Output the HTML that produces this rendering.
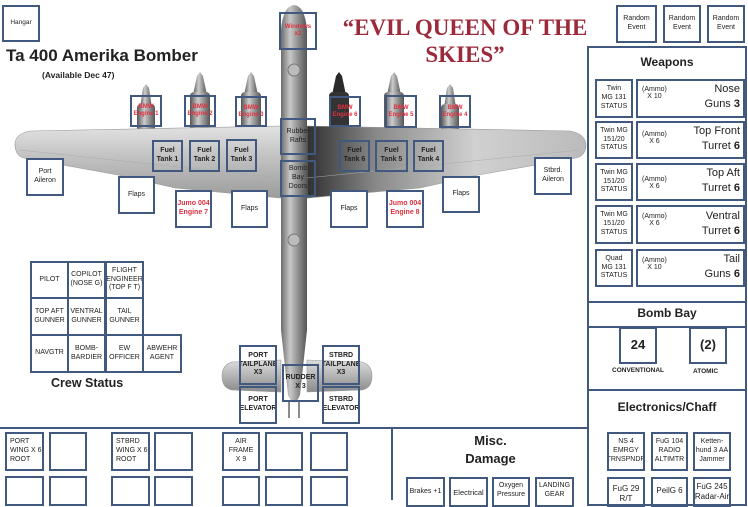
<!DOCTYPE html>
<html><head><meta charset="utf-8"><style>
*{margin:0;padding:0;box-sizing:border-box}
body{width:748px;height:500px;overflow:hidden;background:#fff;position:relative;font-family:"Liberation Sans",sans-serif;color:#222}
.b{position:absolute;border:2px solid #41597f;display:flex;align-items:center;justify-content:center;text-align:center;font-size:7px;line-height:1.25;overflow:hidden}
.r{color:#e0303f;font-weight:bold}
.e{font-size:6px;line-height:1.15}
.t{position:absolute;white-space:nowrap}
.ln{position:absolute;background:#41597f}
</style></head><body>
<svg width="748" height="500" style="position:absolute;left:0;top:0">
<defs>
<linearGradient id="fg" x1="0" x2="1"><stop offset="0" stop-color="#6d6d6d"/><stop offset=".35" stop-color="#c8c8c8"/><stop offset=".6" stop-color="#9a9a9a"/><stop offset="1" stop-color="#555"/></linearGradient>
<linearGradient id="wg" x1="0" y1="0" x2="0" y2="1"><stop offset="0" stop-color="#e2e2e2"/><stop offset=".4" stop-color="#c4c4c4"/><stop offset="1" stop-color="#9c9c9c"/></linearGradient>
<linearGradient id="wr" x1="0" x2="1"><stop offset="0" stop-color="#303030"/><stop offset=".25" stop-color="#8a8a8a"/><stop offset=".6" stop-color="#d0d0d0"/><stop offset="1" stop-color="#bbb"/></linearGradient>
<linearGradient id="eg" x1="0" x2="1"><stop offset="0" stop-color="#555"/><stop offset=".4" stop-color="#ccc"/><stop offset="1" stop-color="#555"/></linearGradient>
<linearGradient id="tg" x1="0" y1="0" x2="0" y2="1"><stop offset="0" stop-color="#ddd"/><stop offset="1" stop-color="#8a8a8a"/></linearGradient>
</defs>
<g fill="url(#eg)">
<path d="M140 108 L143 88 L146 84 L149 88 L152 108 Z"/><rect x="137" y="104" width="18" height="40" rx="4"/>
<path d="M193 95 L197 76 L200 72 L203 76 L207 95 Z"/><rect x="190" y="92" width="20" height="52" rx="4"/>
<path d="M244 95 L248 76 L251 72 L254 76 L258 95 Z"/><rect x="241" y="92" width="20" height="52" rx="4"/>
<path d="M387 95 L391 76 L394 72 L397 76 L401 95 Z"/><rect x="384" y="92" width="20" height="52" rx="4"/>
<path d="M444 108 L447 88 L450 84 L453 88 L456 108 Z"/><rect x="441" y="104" width="18" height="40" rx="4"/>
</g>
<path d="M332 95 L336 76 L339 72 L342 76 L346 95 Z" fill="#2a2a2a"/><rect x="329" y="92" width="20" height="52" rx="4" fill="#333"/>
<path d="M281 126 L30 131 Q14 134 15 146 Q16 156 24 158 L118 175 L175 188 L281 198 Z" fill="url(#wg)" stroke="#999" stroke-width=".6"/>
<path d="M307 126 L570 131 Q586 134 586 146 Q585 156 576 158 L478 175 L420 188 L307 198 Z" fill="url(#wr)" stroke="#999" stroke-width=".6"/>
<g stroke="#aaa" stroke-width=".5"><line x1="20" y1="150" x2="281" y2="178"/><line x1="580" y1="150" x2="307" y2="178"/></g>
<path d="M281 360 L232 362 Q222 365 222 376 Q222 388 232 390 L281 392 Z" fill="url(#tg)" stroke="#999" stroke-width=".6"/>
<path d="M307 360 L362 362 Q372 365 372 376 Q372 388 362 390 L307 392 Z" fill="url(#tg)" stroke="#999" stroke-width=".6"/>
<path d="M281 30 Q283 6 294 5 Q305 6 307 30 L307 330 L300 395 Q294 410 288 395 L281 330 Z" fill="url(#fg)"/>
<line x1="289" y1="400" x2="289" y2="418" stroke="#666" stroke-width="1.5"/><line x1="299" y1="400" x2="299" y2="418" stroke="#666" stroke-width="1.5"/>
<circle cx="294" cy="70" r="6" fill="#bbb" stroke="#777"/>
<circle cx="294" cy="240" r="6" fill="#bbb" stroke="#777"/>
</svg>

<div class="b" style="left:2px;top:5px;width:38px;height:37px;font-size:6.5px">Hangar</div>
<div class="t" style="left:6px;top:46px;font-size:17px;font-weight:bold">Ta 400 Amerika Bomber</div>
<div class="t" style="left:42px;top:70px;font-size:8.5px;font-weight:bold">(Available Dec 47)</div>
<div class="t" style="left:330px;top:14px;width:270px;text-align:center;font-family:'Liberation Serif',serif;font-weight:bold;font-size:23px;color:#9b2a3a;line-height:27px;white-space:normal">“EVIL QUEEN OF THE<br>SKIES”</div>

<div class="b r e" style="left:279px;top:12px;width:38px;height:38px">Windows<br>x2</div>
<div class="b r e" style="left:130px;top:95px;width:32px;height:32px">BMW<br>Engine 1</div>
<div class="b r e" style="left:184px;top:95px;width:32px;height:32px">BMW<br>Engine 2</div>
<div class="b r e" style="left:235px;top:96px;width:32px;height:31px">BMW<br>Engine 3</div>
<div class="b r e" style="left:329px;top:96px;width:32px;height:31px">BMW<br>Engine 6</div>
<div class="b r e" style="left:385px;top:95px;width:32px;height:33px">BMW<br>Engine 5</div>
<div class="b r e" style="left:439px;top:95px;width:32px;height:33px">BMW<br>Engine 4</div>
<div class="b" style="left:280px;top:118px;width:36px;height:37px">Rubber<br>Rafts</div>
<div class="b" style="left:280px;top:160px;width:36px;height:37px">Bomb<br>Bay<br>Doors</div>
<div class="b" style="left:152px;top:140px;width:31px;height:32px;font-weight:bold">Fuel<br>Tank 1</div>
<div class="b" style="left:189px;top:140px;width:31px;height:32px;font-weight:bold">Fuel<br>Tank 2</div>
<div class="b" style="left:226px;top:139px;width:31px;height:33px;font-weight:bold">Fuel<br>Tank 3</div>
<div class="b" style="left:339px;top:140px;width:31px;height:32px;font-weight:bold">Fuel<br>Tank 6</div>
<div class="b" style="left:375px;top:140px;width:33px;height:32px;font-weight:bold">Fuel<br>Tank 5</div>
<div class="b" style="left:413px;top:140px;width:31px;height:32px;font-weight:bold">Fuel<br>Tank 4</div>
<div class="b" style="left:26px;top:158px;width:38px;height:38px;background:#fff">Port<br>Aileron</div>
<div class="b" style="left:118px;top:176px;width:37px;height:38px;background:#fff">Flaps</div>
<div class="b r" style="left:175px;top:190px;width:37px;height:38px;background:#fff">Jumo 004<br>Engine 7</div>
<div class="b" style="left:231px;top:190px;width:37px;height:38px;background:#fff">Flaps</div>
<div class="b" style="left:330px;top:190px;width:38px;height:38px;background:#fff">Flaps</div>
<div class="b r" style="left:386px;top:190px;width:38px;height:38px;background:#fff">Jumo 004<br>Engine 8</div>
<div class="b" style="left:442px;top:176px;width:38px;height:37px;background:#fff">Flaps</div>
<div class="b" style="left:534px;top:157px;width:38px;height:38px;background:#fff">Stbrd.<br>Aileron</div>

<div class="b" style="left:30px;top:261px;width:39px;height:38px">PILOT</div>
<div class="b" style="left:67px;top:261px;width:39px;height:38px">COPILOT<br>(NOSE G)</div>
<div class="b" style="left:105px;top:261px;width:39px;height:38px">FLIGHT<br>ENGINEER<br>(TOP F T)</div>
<div class="b" style="left:30px;top:297px;width:39px;height:39px">TOP AFT<br>GUNNER</div>
<div class="b" style="left:67px;top:297px;width:39px;height:39px">VENTRAL<br>GUNNER</div>
<div class="b" style="left:105px;top:297px;width:39px;height:39px">TAIL<br>GUNNER</div>
<div class="b" style="left:30px;top:334px;width:39px;height:39px">NAVGTR</div>
<div class="b" style="left:67px;top:334px;width:39px;height:39px">BOMB-<br>BARDIER</div>
<div class="b" style="left:105px;top:334px;width:39px;height:39px">EW<br>OFFICER</div>
<div class="b" style="left:142px;top:334px;width:40px;height:39px">ABWEHR<br>AGENT</div>
<div class="t" style="left:51px;top:376px;font-size:12.5px;font-weight:bold">Crew Status</div>

<div class="b" style="left:239px;top:345px;width:38px;height:40px;font-weight:bold">PORT<br>TAILPLANE<br>X3</div>
<div class="b" style="left:322px;top:345px;width:38px;height:40px;font-weight:bold">STBRD<br>TAILPLANE<br>X3</div>
<div class="b" style="left:282px;top:364px;width:37px;height:38px;font-weight:bold">RUDDER<br>X 3</div>
<div class="b" style="left:239px;top:386px;width:38px;height:38px;font-weight:bold">PORT<br>ELEVATOR</div>
<div class="b" style="left:322px;top:386px;width:38px;height:38px;font-weight:bold">STBRD<br>ELEVATOR</div>

<div class="ln" style="left:0;top:427px;width:589px;height:2px"></div>
<div class="ln" style="left:391px;top:427px;width:2px;height:73px"></div>
<div class="b" style="left:5px;top:432px;width:39px;height:39px;justify-content:flex-start;text-align:left;padding-left:3px">PORT<br>WING X 6<br>ROOT</div>
<div class="b" style="left:49px;top:432px;width:38px;height:39px"></div>
<div class="b" style="left:111px;top:432px;width:39px;height:39px;justify-content:flex-start;text-align:left;padding-left:3px">STBRD<br>WING X 6<br>ROOT</div>
<div class="b" style="left:154px;top:432px;width:39px;height:39px"></div>
<div class="b" style="left:222px;top:432px;width:38px;height:39px;align-items:flex-start;padding-top:4px">AIR<br>FRAME<br>X 9</div>
<div class="b" style="left:265px;top:432px;width:38px;height:39px"></div>
<div class="b" style="left:310px;top:432px;width:38px;height:39px"></div>
<div class="b" style="left:5px;top:476px;width:39px;height:30px"></div>
<div class="b" style="left:49px;top:476px;width:38px;height:30px"></div>
<div class="b" style="left:111px;top:476px;width:39px;height:30px"></div>
<div class="b" style="left:154px;top:476px;width:39px;height:30px"></div>
<div class="b" style="left:222px;top:476px;width:38px;height:30px"></div>
<div class="b" style="left:265px;top:476px;width:38px;height:30px"></div>
<div class="b" style="left:310px;top:476px;width:38px;height:30px"></div>
<div class="t" style="left:393px;top:432px;width:195px;text-align:center;font-size:13px;font-weight:bold;line-height:18px">Misc.<br>Damage</div>
<div class="b" style="left:406px;top:477px;width:39px;height:30px;align-items:flex-start;padding-top:9px">Brakes +1</div>
<div class="b" style="left:449px;top:477px;width:39px;height:30px;align-items:flex-start;padding-top:9px;font-size:7.5px">Electrical</div>
<div class="b" style="left:492px;top:477px;width:38px;height:30px;align-items:flex-start;padding-top:3px">Oxygen<br>Pressure</div>
<div class="b" style="left:535px;top:477px;width:39px;height:30px;align-items:flex-start;padding-top:3px">LANDING<br>GEAR</div>

<div class="b" style="left:616px;top:5px;width:41px;height:38px">Random<br>Event</div>
<div class="b" style="left:663px;top:5px;width:38px;height:38px">Random<br>Event</div>
<div class="b" style="left:707px;top:5px;width:38px;height:38px">Random<br>Event</div>
<div class="b" style="left:587px;top:46px;width:160px;height:460px"></div>
<div class="t" style="left:589px;top:55px;width:156px;text-align:center;font-size:12px;font-weight:bold">Weapons</div>

<div class="b" style="left:595px;top:79px;width:38px;height:39px">Twin<br>MG 131<br>STATUS</div>
<div class="b" style="left:636px;top:79px;width:109px;height:39px"></div>
<div class="t" style="left:642px;top:86px;font-size:7px;text-align:center">(Ammo)<br>X 10</div>
<div class="t" style="left:690px;top:82px;width:50px;text-align:right;font-size:11px;line-height:15px">Nose<br>Guns <b>3</b></div>

<div class="b" style="left:595px;top:121px;width:38px;height:38px">Twin MG<br>151/20<br>STATUS</div>
<div class="b" style="left:636px;top:121px;width:109px;height:38px"></div>
<div class="t" style="left:642px;top:131px;font-size:7px;text-align:center">(Ammo)<br>X 6</div>
<div class="t" style="left:680px;top:124px;width:60px;text-align:right;font-size:11px;line-height:15px">Top Front<br>Turret <b>6</b></div>

<div class="b" style="left:595px;top:163px;width:38px;height:38px">Twin MG<br>151/20<br>STATUS</div>
<div class="b" style="left:636px;top:163px;width:109px;height:38px"></div>
<div class="t" style="left:642px;top:176px;font-size:7px;text-align:center">(Ammo)<br>X 6</div>
<div class="t" style="left:680px;top:166px;width:60px;text-align:right;font-size:11px;line-height:15px">Top Aft<br>Turret <b>6</b></div>

<div class="b" style="left:595px;top:205px;width:38px;height:39px">Twin MG<br>151/20<br>STATUS</div>
<div class="b" style="left:636px;top:205px;width:109px;height:39px"></div>
<div class="t" style="left:642px;top:213px;font-size:7px;text-align:center">(Ammo)<br>X 6</div>
<div class="t" style="left:680px;top:209px;width:60px;text-align:right;font-size:11px;line-height:15px">Ventral<br>Turret <b>6</b></div>

<div class="b" style="left:595px;top:249px;width:38px;height:38px">Quad<br>MG 131<br>STATUS</div>
<div class="b" style="left:636px;top:249px;width:109px;height:38px"></div>
<div class="t" style="left:642px;top:257px;font-size:7px;text-align:center">(Ammo)<br>X 10</div>
<div class="t" style="left:680px;top:252px;width:60px;text-align:right;font-size:11px;line-height:15px">Tail<br>Guns <b>6</b></div>

<div class="ln" style="left:587px;top:301px;width:160px;height:2px"></div>
<div class="ln" style="left:587px;top:326px;width:160px;height:2px"></div>
<div class="t" style="left:589px;top:306px;width:156px;text-align:center;font-size:12px;font-weight:bold">Bomb Bay</div>
<div class="b" style="left:619px;top:327px;width:38px;height:37px;font-size:13px;font-weight:bold">24</div>
<div class="b" style="left:689px;top:327px;width:38px;height:37px;font-size:13px;font-weight:bold">(2)</div>
<div class="t" style="left:612px;top:367px;font-size:6.5px;font-weight:bold">CONVENTIONAL</div>
<div class="t" style="left:693px;top:368px;font-size:6.5px;font-weight:bold">ATOMIC</div>
<div class="ln" style="left:587px;top:389px;width:160px;height:2px"></div>
<div class="t" style="left:589px;top:400px;width:156px;text-align:center;font-size:12px;font-weight:bold">Electronics/Chaff</div>
<div class="b" style="left:607px;top:432px;width:38px;height:39px">NS 4<br>EMRGY<br>TRNSPNDR</div>
<div class="b" style="left:651px;top:432px;width:37px;height:39px">FuG 104<br>RADIO<br>ALTIMTR</div>
<div class="b" style="left:693px;top:432px;width:38px;height:39px">Ketten-<br>hund 3 AA<br>Jammer</div>
<div class="b" style="left:607px;top:477px;width:38px;height:30px;align-items:flex-start;padding-top:5px;font-size:8px">FuG 29<br>R/T</div>
<div class="b" style="left:651px;top:477px;width:37px;height:30px;align-items:flex-start;padding-top:7px;font-size:8px">PeilG 6</div>
<div class="b" style="left:693px;top:477px;width:38px;height:30px;align-items:flex-start;padding-top:3px;font-size:8px;white-space:nowrap">FuG 245<br>Radar-Air</div>
</body></html>
